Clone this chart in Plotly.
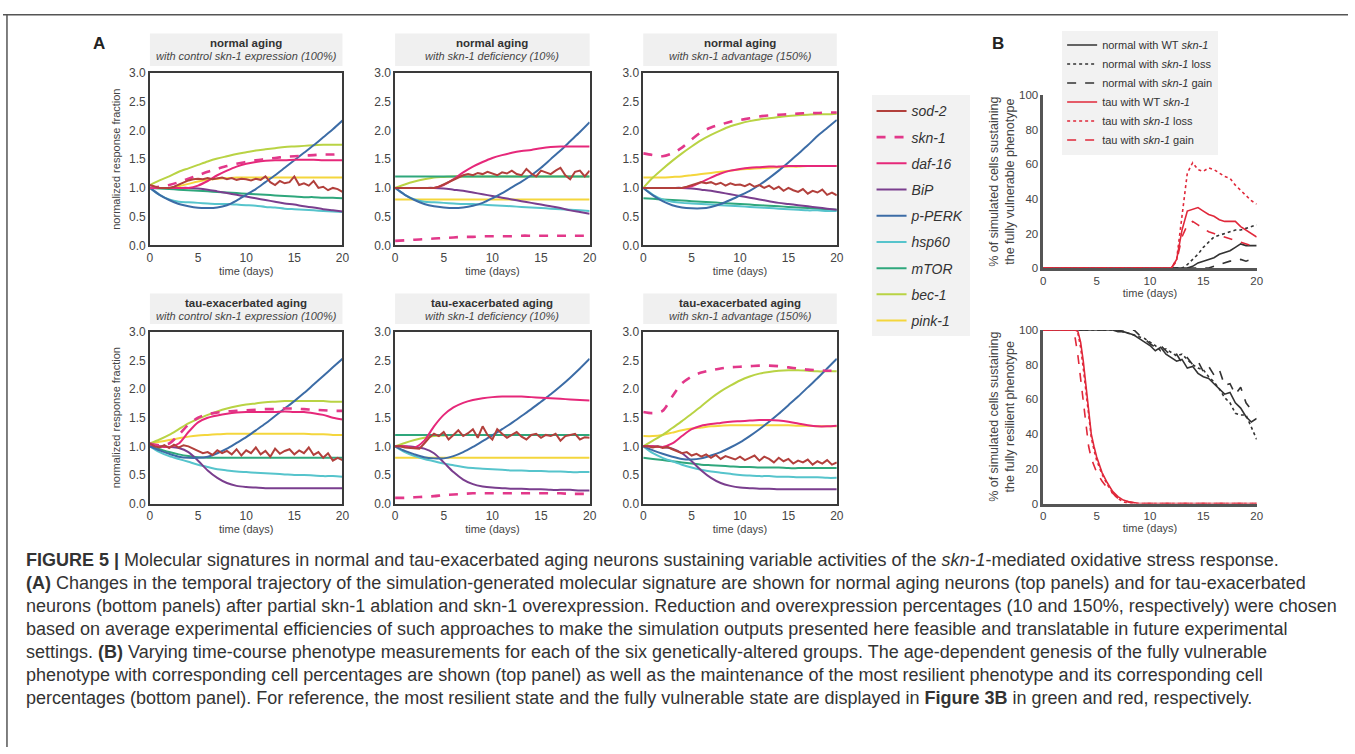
import plotly.graph_objects as go

W, H = 1355, 754
def px(x): return x / W
def py(y): return 1 - y / H

FONT = "Liberation Sans, Arial, Helvetica, sans-serif"

# ---------------- data ----------------
DAYS = [0, 1, 2, 3, 4, 5, 6, 7, 8, 9, 10, 11, 12, 13, 14, 15, 16, 17, 18, 19, 20]
HALF_DAYS = [0, 0.5, 1, 1.5, 2, 2.5, 3, 3.5, 4, 4.5, 5, 5.5, 6, 6.5, 7, 7.5, 8, 8.5, 9, 9.5,
             10, 10.5, 11, 11.5, 12, 12.5, 13, 13.5, 14, 14.5, 15, 15.5, 16, 16.5, 17, 17.5,
             18, 18.5, 19, 19.5, 20]

GENES = ["sod-2", "skn-1", "daf-16", "BiP", "p-PERK", "hsp60", "mTOR", "bec-1", "pink-1"]
GENE_COLORS = ["#B2403C", "#E2388A", "#E6287A", "#7A3E8E", "#3C6CA6",
               "#56C4CC", "#2FA77C", "#B9D344", "#F4D63C"]

PANEL_TITLES = ["normal aging", "normal aging", "normal aging",
                "tau-exacerbated aging", "tau-exacerbated aging", "tau-exacerbated aging"]
PANEL_SUBTITLES = ["with control skn-1 expression (100%)", "with skn-1 deficiency (10%)",
                   "with skn-1 advantage (150%)", "with control skn-1 expression (100%)",
                   "with skn-1 deficiency (10%)", "with skn-1 advantage (150%)"]

# panel 1: normal aging, 100%
n100_sod2 = [1.05, 1.02, 1.0, 1.0, 1.0, 1.02, 1.06, 1.1, 1.13, 1.15,
             1.16, 1.15, 1.17, 1.15, 1.16, 1.18, 1.15, 1.17, 1.14, 1.16,
             1.15, 1.13, 1.16, 1.14, 1.2, 1.1, 1.05, 1.12, 1.08, 1.1,
             1.2, 1.05, 1.08, 1.04, 1.12, 1.0, 1.02, 0.96, 1.0, 0.98, 0.93]
n100_skn1 = [1.0, 1.02, 1.05, 1.1, 1.16, 1.22, 1.28, 1.33, 1.38, 1.42, 1.45, 1.48, 1.5, 1.52, 1.54, 1.55, 1.56, 1.57, 1.58, 1.58, 1.59]
n100_daf16 = [1.0, 1.0, 1.0, 1.0, 1.0, 1.04, 1.12, 1.22, 1.3, 1.37, 1.42, 1.45, 1.47, 1.48, 1.48, 1.49, 1.49, 1.49, 1.48, 1.48, 1.48]
n100_bip = [1.0, 1.0, 1.0, 1.0, 1.0, 0.99, 0.97, 0.94, 0.91, 0.88, 0.85, 0.82, 0.79, 0.76, 0.73, 0.71, 0.68, 0.66, 0.63, 0.61, 0.59]
n100_pperk = [1.0, 0.88, 0.79, 0.72, 0.68, 0.655, 0.65, 0.66, 0.7, 0.78, 0.88, 0.98, 1.1, 1.22, 1.35, 1.48, 1.61, 1.74, 1.88, 2.02, 2.17]
n100_hsp60 = [1.0, 0.88, 0.8, 0.76, 0.75, 0.74, 0.73, 0.72, 0.72, 0.71, 0.7, 0.69, 0.67, 0.66, 0.64, 0.63, 0.62, 0.61, 0.6, 0.59, 0.58]
n100_mtor = [1.0, 0.99, 0.98, 0.97, 0.96, 0.95, 0.94, 0.93, 0.92, 0.91, 0.9, 0.89, 0.88, 0.87, 0.86, 0.85, 0.84, 0.84, 0.83, 0.83, 0.82]
n100_bec1 = [1.05, 1.13, 1.2, 1.28, 1.34, 1.4, 1.46, 1.51, 1.55, 1.59, 1.62, 1.65, 1.67, 1.69, 1.71, 1.72, 1.73, 1.74, 1.75, 1.75, 1.75]
n100_pink1 = [1.0, 1.0, 1.0, 1.03, 1.07, 1.11, 1.14, 1.16, 1.17, 1.18, 1.18, 1.18, 1.18, 1.18, 1.18, 1.18, 1.18, 1.18, 1.18, 1.18, 1.18]

# panel 2: normal aging, 10%
n10_sod2 = [1.0, 1.0, 1.0, 1.0, 1.0, 1.0, 1.0, 1.0, 1.0, 1.02,
            1.06, 1.1, 1.15, 1.19, 1.22, 1.24, 1.22, 1.26, 1.24, 1.28,
            1.25, 1.22, 1.27, 1.25, 1.3, 1.24, 1.22, 1.33, 1.25, 1.2,
            1.3, 1.27, 1.24, 1.3, 1.35, 1.22, 1.15, 1.28, 1.3, 1.2, 1.3]
n10_skn1 = [0.08, 0.09, 0.1, 0.11, 0.12, 0.13, 0.14, 0.15, 0.15, 0.16, 0.16, 0.16, 0.16, 0.17, 0.17, 0.17, 0.17, 0.17, 0.17, 0.17, 0.17]
n10_daf16 = [1.0, 1.0, 1.0, 1.0, 1.0, 1.05, 1.15, 1.27, 1.37, 1.45, 1.52, 1.57, 1.61, 1.64, 1.66, 1.69, 1.71, 1.72, 1.72, 1.72, 1.72]
n10_bip = [1.0, 1.0, 1.0, 1.0, 1.0, 0.99, 0.97, 0.95, 0.92, 0.89, 0.86, 0.83, 0.8, 0.77, 0.74, 0.71, 0.68, 0.65, 0.61, 0.58, 0.55]
n10_pperk = [1.0, 0.88, 0.79, 0.72, 0.68, 0.66, 0.65, 0.66, 0.69, 0.74, 0.82, 0.91, 1.01, 1.11, 1.22, 1.35, 1.5, 1.65, 1.81, 1.97, 2.14]
n10_hsp60 = [1.0, 0.88, 0.8, 0.76, 0.75, 0.74, 0.73, 0.72, 0.72, 0.71, 0.7, 0.69, 0.68, 0.67, 0.66, 0.65, 0.64, 0.63, 0.62, 0.61, 0.6]
n10_mtor = [1.2, 1.2, 1.2, 1.2, 1.2, 1.2, 1.2, 1.2, 1.2, 1.2, 1.2, 1.2, 1.2, 1.2, 1.2, 1.2, 1.2, 1.2, 1.2, 1.2, 1.2]
n10_bec1 = [1.0, 1.06, 1.11, 1.15, 1.18, 1.19, 1.2, 1.2, 1.2, 1.2, 1.2, 1.2, 1.2, 1.2, 1.2, 1.2, 1.2, 1.2, 1.2, 1.2, 1.2]
n10_pink1 = [0.8, 0.8, 0.8, 0.8, 0.8, 0.8, 0.8, 0.8, 0.8, 0.8, 0.8, 0.8, 0.8, 0.8, 0.8, 0.8, 0.8, 0.8, 0.8, 0.8, 0.8]

# panel 3: normal aging, 150%
n150_sod2 = [1.0, 1.0, 1.0, 1.0, 1.0, 1.0, 1.0, 1.0, 1.0, 1.02,
             1.05, 1.08, 1.1, 1.08, 1.1, 1.06, 1.09, 1.04, 1.08, 1.05,
             1.06, 1.03, 1.07, 1.02, 1.05, 1.0, 1.04, 0.98, 1.02, 0.95,
             1.0, 0.96, 0.93, 0.98, 0.9, 0.95, 0.92, 0.97, 0.88, 0.92, 0.87]
n150_skn1 = [1.6, 1.57, 1.55, 1.6, 1.7, 1.84, 1.97, 2.05, 2.1, 2.15, 2.18, 2.21, 2.24, 2.26, 2.27, 2.28, 2.29, 2.3, 2.3, 2.31, 2.31]
n150_daf16 = [1.0, 1.0, 1.0, 1.0, 1.0, 1.03, 1.1, 1.18, 1.25, 1.3, 1.33, 1.35, 1.36, 1.37, 1.37, 1.38, 1.38, 1.38, 1.38, 1.38, 1.38]
n150_bip = [1.0, 1.0, 1.0, 1.0, 1.0, 0.99, 0.97, 0.95, 0.92, 0.89, 0.86, 0.83, 0.8, 0.77, 0.74, 0.72, 0.7, 0.68, 0.66, 0.64, 0.62]
n150_pperk = [1.0, 0.87, 0.77, 0.7, 0.66, 0.645, 0.645, 0.67, 0.72, 0.79, 0.87, 0.95, 1.05, 1.17, 1.3, 1.44, 1.59, 1.74, 1.9, 2.04, 2.18]
n150_hsp60 = [1.0, 0.88, 0.8, 0.76, 0.74, 0.73, 0.72, 0.71, 0.7, 0.69, 0.68, 0.67, 0.66, 0.65, 0.64, 0.63, 0.62, 0.61, 0.61, 0.6, 0.6]
n150_mtor = [0.82, 0.81, 0.8, 0.79, 0.78, 0.77, 0.76, 0.75, 0.74, 0.73, 0.72, 0.71, 0.7, 0.69, 0.68, 0.67, 0.66, 0.65, 0.64, 0.63, 0.62]
n150_bec1 = [1.0, 1.18, 1.33, 1.47, 1.6, 1.72, 1.83, 1.92, 2.0, 2.07, 2.12, 2.16, 2.19, 2.21, 2.23, 2.25, 2.26, 2.27, 2.28, 2.28, 2.29]
n150_pink1 = [1.18, 1.18, 1.18, 1.19, 1.2, 1.22, 1.24, 1.26, 1.28, 1.3, 1.32, 1.33, 1.34, 1.35, 1.36, 1.37, 1.37, 1.38, 1.38, 1.38, 1.38]

# panel 4: tau-exacerbated aging, 100%
t100_sod2 = [1.05, 1.0, 0.98, 1.02, 0.97, 1.03, 0.98, 1.02, 1.0, 0.96,
             0.92, 0.88, 0.9, 0.85, 0.93, 0.88, 0.92, 0.86, 0.95, 0.84,
             0.93, 0.88, 0.98, 0.86, 0.92, 0.82, 0.96, 0.87, 0.92, 0.95,
             0.86, 0.93, 0.88, 0.98, 0.85, 0.9, 0.8, 0.88, 0.75, 0.8, 0.76]
t100_skn1 = [1.05, 1.02, 1.05, 1.2, 1.38, 1.5, 1.56, 1.59, 1.61, 1.62, 1.63, 1.64, 1.65, 1.65, 1.66, 1.66, 1.65, 1.64, 1.63, 1.62, 1.62]
t100_daf16 = [1.03, 1.0, 0.99, 1.05, 1.25, 1.42, 1.5, 1.54, 1.57, 1.59, 1.6, 1.6, 1.6, 1.6, 1.61, 1.6, 1.6, 1.58, 1.55, 1.5, 1.47]
t100_bip = [1.0, 1.0, 0.99, 0.97, 0.9, 0.75, 0.58, 0.45, 0.36, 0.31, 0.29, 0.28, 0.27, 0.27, 0.27, 0.27, 0.27, 0.27, 0.27, 0.27, 0.27]
t100_pperk = [1.0, 0.93, 0.87, 0.82, 0.8, 0.8, 0.82, 0.88, 0.96, 1.06, 1.16, 1.28, 1.4, 1.53, 1.66, 1.79, 1.93, 2.08, 2.23, 2.38, 2.53]
t100_hsp60 = [1.0, 0.9, 0.83, 0.78, 0.73, 0.68, 0.64, 0.6, 0.58, 0.56, 0.55, 0.54, 0.53, 0.52, 0.51, 0.5, 0.5, 0.49, 0.48, 0.48, 0.47]
t100_mtor = [1.0, 0.95, 0.9, 0.86, 0.83, 0.81, 0.8, 0.8, 0.8, 0.8, 0.8, 0.8, 0.8, 0.8, 0.8, 0.8, 0.8, 0.8, 0.8, 0.8, 0.8]
t100_bec1 = [1.05, 1.12, 1.2, 1.3, 1.4, 1.48, 1.55, 1.61, 1.66, 1.7, 1.73, 1.75, 1.77, 1.78, 1.79, 1.79, 1.79, 1.79, 1.79, 1.78, 1.78]
t100_pink1 = [1.05, 1.08, 1.11, 1.14, 1.17, 1.19, 1.2, 1.21, 1.22, 1.22, 1.22, 1.22, 1.22, 1.22, 1.22, 1.22, 1.22, 1.21, 1.21, 1.2, 1.2]

# panel 5: tau-exacerbated aging, 10%
t10_sod2 = [1.0, 1.0, 0.98, 0.97, 0.96, 0.96, 1.05, 1.15, 1.22, 1.18,
            1.25, 1.12, 1.2, 1.28, 1.18, 1.23, 1.3, 1.15, 1.35, 1.2,
            1.12, 1.3, 1.22, 1.15, 1.2, 1.25, 1.17, 1.12, 1.2, 1.22,
            1.15, 1.2, 1.18, 1.22, 1.1, 1.18, 1.2, 1.22, 1.12, 1.16, 1.15]
t10_skn1 = [0.1, 0.1, 0.11, 0.12, 0.13, 0.15, 0.16, 0.17, 0.18, 0.18, 0.18, 0.18, 0.18, 0.18, 0.18, 0.18, 0.18, 0.18, 0.17, 0.17, 0.17]
t10_daf16 = [1.0, 1.0, 0.98, 1.1, 1.35, 1.55, 1.68, 1.76, 1.81, 1.84, 1.86, 1.87, 1.87, 1.87, 1.86, 1.85, 1.84, 1.83, 1.82, 1.81, 1.8]
t10_bip = [1.0, 1.0, 0.99, 0.96, 0.88, 0.72, 0.55, 0.42, 0.34, 0.3, 0.28, 0.27, 0.26, 0.26, 0.25, 0.25, 0.24, 0.24, 0.24, 0.23, 0.23]
t10_pperk = [1.0, 0.92, 0.86, 0.81, 0.79, 0.79, 0.83, 0.9, 0.99, 1.09, 1.19, 1.3, 1.41, 1.53, 1.65, 1.78, 1.91, 2.05, 2.2, 2.36, 2.53]
t10_hsp60 = [1.0, 0.9, 0.83, 0.78, 0.74, 0.7, 0.67, 0.64, 0.62, 0.61, 0.6, 0.59, 0.58, 0.58, 0.57, 0.57, 0.56, 0.56, 0.55, 0.55, 0.55]
t10_mtor = [1.2, 1.2, 1.2, 1.2, 1.2, 1.2, 1.2, 1.2, 1.2, 1.2, 1.2, 1.2, 1.2, 1.2, 1.2, 1.2, 1.2, 1.2, 1.2, 1.2, 1.2]
t10_bec1 = [1.0, 1.06, 1.11, 1.15, 1.18, 1.19, 1.2, 1.2, 1.2, 1.2, 1.2, 1.2, 1.2, 1.2, 1.2, 1.2, 1.2, 1.2, 1.2, 1.2, 1.2]
t10_pink1 = [0.8, 0.8, 0.8, 0.8, 0.8, 0.8, 0.8, 0.8, 0.8, 0.8, 0.8, 0.8, 0.8, 0.8, 0.8, 0.8, 0.8, 0.8, 0.8, 0.8, 0.8]

# panel 6: tau-exacerbated aging, 150%
t150_sod2 = [1.0, 1.0, 0.98, 1.0, 0.97, 0.99, 0.95, 0.92, 0.88, 0.9,
             0.84, 0.87, 0.82, 0.86, 0.8, 0.85, 0.78, 0.83, 0.8, 0.77,
             0.82, 0.76, 0.8, 0.84, 0.75, 0.82, 0.78, 0.72, 0.8, 0.74,
             0.78, 0.7, 0.75, 0.72, 0.77, 0.68, 0.74, 0.7, 0.76, 0.68, 0.72]
t150_skn1 = [1.6, 1.58, 1.62, 1.87, 2.1, 2.22, 2.29, 2.33, 2.36, 2.38, 2.39, 2.4, 2.41, 2.41, 2.4, 2.38, 2.36, 2.34, 2.33, 2.32, 2.32]
t150_daf16 = [1.0, 1.0, 0.99, 1.05, 1.18, 1.3, 1.36, 1.39, 1.41, 1.43, 1.44, 1.45, 1.46, 1.46, 1.45, 1.43, 1.4, 1.37, 1.35, 1.35, 1.36]
t150_bip = [1.0, 1.0, 0.99, 0.96, 0.88, 0.74, 0.58, 0.45, 0.36, 0.31, 0.28, 0.27, 0.26, 0.26, 0.25, 0.25, 0.25, 0.25, 0.25, 0.25, 0.25]
t150_pperk = [1.0, 0.93, 0.87, 0.82, 0.78, 0.77, 0.79, 0.84, 0.9, 0.98, 1.07, 1.18, 1.3, 1.43, 1.57, 1.72, 1.87, 2.03, 2.19, 2.36, 2.53]
t150_hsp60 = [1.0, 0.88, 0.8, 0.74, 0.68, 0.63, 0.59, 0.56, 0.54, 0.52, 0.5, 0.49, 0.48, 0.48, 0.47, 0.47, 0.46, 0.46, 0.46, 0.45, 0.45]
t150_mtor = [0.8, 0.78, 0.76, 0.74, 0.72, 0.7, 0.68, 0.67, 0.66, 0.65, 0.64, 0.64, 0.63, 0.63, 0.63, 0.62, 0.62, 0.62, 0.62, 0.62, 0.62]
t150_bec1 = [1.0, 1.1, 1.2, 1.32, 1.44, 1.57, 1.7, 1.84, 1.96, 2.06, 2.15, 2.22, 2.27, 2.3, 2.32, 2.33, 2.33, 2.32, 2.31, 2.31, 2.31]
t150_pink1 = [1.18, 1.18, 1.2, 1.24, 1.28, 1.31, 1.33, 1.35, 1.36, 1.37, 1.37, 1.37, 1.37, 1.37, 1.37, 1.37, 1.36, 1.36, 1.35, 1.35, 1.35]

# Panel B (top): fully vulnerable phenotype (%)
VUL_DAYS = [0, 12, 12.5, 13, 13.5, 14, 14.5, 15, 15.5, 16, 16.5, 17, 17.5, 18, 18.5, 19, 19.5, 20]
vul_normal_wt = [0, 0, 0, 0, 0, 1, 3, 4, 5, 6, 8, 9, 10, 12, 14, 13, 13, 13]
vul_normal_loss = [0, 0, 0, 0, 2, 5, 8, 12, 15, 18, 19, 20, 21, 22, 22, 23, 24, 25]
vul_normal_gain = [0, 0, 0, 0, 0, 0, 0, 0, 0, 1, 2, 3, 4, 4, 5, 4, 5, 6]
vul_tau_wt = [0, 0, 5, 22, 33, 34, 35, 33, 31, 30, 28, 27, 27, 27, 24, 22, 20, 18]
vul_tau_loss = [0, 0, 5, 30, 55, 61, 57, 56, 58, 57, 55, 53, 52, 48, 45, 42, 39, 37]
vul_tau_gain = [0, 0, 4, 18, 25, 27, 25, 23, 21, 20, 19, 18, 17, 16, 15, 14, 13, 11]

# Panel B (bottom): fully resilient phenotype (%)
RES_NORMAL_DAYS = [0, 6, 6.5, 7, 7.5, 8, 8.5, 9, 9.5, 10, 10.5, 11, 11.5, 12, 12.5, 13, 13.5,
                   14, 14.5, 15, 15.5, 16, 16.5, 17, 17.5, 18, 18.5, 19, 19.5, 20]
res_normal_wt = [100, 100, 100, 99, 99, 98, 97, 95, 93, 91, 88, 90, 86, 84, 82, 83, 78,
                 79, 75, 73, 72, 69, 66, 63, 64, 58, 55, 50, 47, 49]
res_normal_loss = [100, 100, 100, 100, 99, 98, 97, 96, 95, 93, 91, 88, 89, 87, 85, 86, 83,
                   80, 78, 77, 73, 70, 66, 61, 58, 52, 51, 51, 44, 37]
res_normal_gain = [100, 100, 100, 100, 99, 99, 100, 97, 95, 92, 90, 91, 88, 85, 86, 81, 84,
                   80, 82, 76, 79, 74, 77, 68, 69, 63, 67, 58, 54, 53]
RES_TAU_DAYS = [0, 2.5, 2.75, 3, 3.25, 3.5, 3.75, 4, 4.25, 4.5, 4.75, 5, 5.5, 6, 6.5, 7, 7.5, 8, 9, 20]
res_tau_wt = [100, 100, 100, 100, 99, 93, 82, 68, 52, 40, 33, 27, 18, 12, 7, 4, 2, 1, 0, 0]
res_tau_loss = [100, 100, 100, 100, 98, 90, 78, 64, 49, 38, 31, 25, 17, 11, 6, 3, 1, 0, 0, 0]
res_tau_gain = [100, 100, 99, 95, 85, 72, 58, 45, 33, 26, 22, 18, 13, 9, 6, 3, 2, 1, 0, 0]

B_NAMES = ["normal with WT <i>skn-1</i>", "normal with <i>skn-1</i> loss", "normal with <i>skn-1</i> gain",
           "tau with WT <i>skn-1</i>", "tau with <i>skn-1</i> loss", "tau with <i>skn-1</i> gain"]
B_COLORS = ["#333333", "#333333", "#333333", "#E0283A", "#E0283A", "#E0283A"]
B_DASH = ["solid", "dot", "dash", "solid", "dot", "dash"]

A_TICKS_X = [0, 5, 10, 15, 20]
A_TICKS_Y = [0, 0.5, 1.0, 1.5, 2.0, 2.5, 3.0]
B_TICKS_Y = [0, 20, 40, 60, 80, 100]

# ---------------- assemble ----------------
panels = [
    [n100_sod2, n100_skn1, n100_daf16, n100_bip, n100_pperk, n100_hsp60, n100_mtor, n100_bec1, n100_pink1],
    [n10_sod2, n10_skn1, n10_daf16, n10_bip, n10_pperk, n10_hsp60, n10_mtor, n10_bec1, n10_pink1],
    [n150_sod2, n150_skn1, n150_daf16, n150_bip, n150_pperk, n150_hsp60, n150_mtor, n150_bec1, n150_pink1],
    [t100_sod2, t100_skn1, t100_daf16, t100_bip, t100_pperk, t100_hsp60, t100_mtor, t100_bec1, t100_pink1],
    [t10_sod2, t10_skn1, t10_daf16, t10_bip, t10_pperk, t10_hsp60, t10_mtor, t10_bec1, t10_pink1],
    [t150_sod2, t150_skn1, t150_daf16, t150_bip, t150_pperk, t150_hsp60, t150_mtor, t150_bec1, t150_pink1],
]

# pixel geometry of the subplots
A_X = [(148, 342), (395, 591), (645, 840)]
A_Y = [(67, 243), (331, 506)]
A_TITLE_Y = [(27, 60), (292, 323)]
B_X = (1048, 1263)
B_Y = [(90, 266), (329, 506)]

fig = go.Figure()
layout = dict(width=W, height=H, margin=dict(l=0, r=0, t=0, b=0),
              paper_bgcolor="white", plot_bgcolor="white",
              font=dict(family=FONT, color="#333"), showlegend=True)
shapes, annotations = [], []

# legend entries first (so grouped legend order follows gene order)
for g in range(9):
    fig.add_trace(go.Scatter(
        x=[None], y=[None], mode="lines", name="<i>" + GENES[g] + "</i>",
        line=dict(color=GENE_COLORS[g], width=2.6 if g == 1 else 2, dash="dash" if g == 1 else "solid"),
        xaxis="x", yaxis="y", legendgroup=GENES[g], showlegend=True, legend="legend",
        hoverinfo="skip"))

draw_order = [8, 7, 6, 5, 3, 4, 2, 1, 0]
for p in range(6):
    ax = p + 1
    col, row = p % 3, p // 3
    xl, xr = A_X[col]
    yt, yb = A_Y[row]
    sfx = "" if ax == 1 else str(ax)
    layout["xaxis" + sfx] = dict(domain=[px(xl), px(xr)], anchor="y" + sfx, range=[0, 20],
                                 tickvals=A_TICKS_X, showline=True, mirror=True, linecolor="#3a3a3a",
                                 linewidth=1.5, showgrid=False, zeroline=False, ticks="",
                                 tickfont=dict(size=12, color="#444"),
                                 title=dict(text="time (days)", font=dict(size=11, color="#444"), standoff=4))
    layout["yaxis" + sfx] = dict(domain=[py(yb), py(yt)], anchor="x" + sfx, range=[0, 3],
                                 tickvals=A_TICKS_Y, tickformat=".1f", showline=True, mirror=True,
                                 linecolor="#3a3a3a", linewidth=1.5, showgrid=False, zeroline=False,
                                 ticks="", tickfont=dict(size=12, color="#444"))
    if col == 0:
        layout["yaxis" + sfx]["title"] = dict(text="normalized response fraction",
                                              font=dict(size=11, color="#444"), standoff=6)
    for g in draw_order:
        vals = panels[p][g]
        xs = HALF_DAYS if g == 0 else DAYS
        dash = "dash" if g == 1 else "solid"
        fig.add_trace(go.Scatter(
            x=xs, y=vals, mode="lines", name="<i>" + GENES[g] + "</i>",
            line=dict(color=GENE_COLORS[g], width=2.6 if g == 1 else 2, dash=dash,
                      shape="linear" if g == 0 else "spline", smoothing=0.8),
            xaxis="x" + sfx, yaxis="y" + sfx, legendgroup=GENES[g],
            showlegend=False, hoverinfo="skip"))
    ty0, ty1 = A_TITLE_Y[row]
    shapes.append(dict(type="rect", xref="paper", yref="paper", x0=px(xl), x1=px(xr),
                       y0=py(ty1), y1=py(ty0), fillcolor="#F0F0F0", line=dict(width=0), layer="below"))
    annotations.append(dict(text="<b>" + PANEL_TITLES[p] + "</b>", xref="paper", yref="paper",
                            x=px((xl + xr) / 2), y=py(ty0 + 10), showarrow=False,
                            font=dict(size=11.5, color="#333"), xanchor="center", yanchor="middle"))
    annotations.append(dict(text="<i>" + PANEL_SUBTITLES[p] + "</i>", xref="paper", yref="paper",
                            x=px((xl + xr) / 2), y=py(ty0 + 23), showarrow=False,
                            font=dict(size=11, color="#444"), xanchor="center", yanchor="middle"))

# panel B axes
b_titles = ["% of simulated cells sustaining<br>the fully vulnerable phenotype",
            "% of simulated cells sustaining<br>the fully resilient phenotype"]
for i in range(2):
    ax = 7 + i
    yt, yb = B_Y[i]
    layout["xaxis%d" % ax] = dict(domain=[px(B_X[0]), px(B_X[1])], anchor="y%d" % ax, range=[0, 20],
                                  tickvals=A_TICKS_X, showline=True, linecolor="#555", linewidth=2.5,
                                  showgrid=False, zeroline=False, ticks="",
                                  tickfont=dict(size=11.5, color="#444"),
                                  title=dict(text="time (days)", font=dict(size=11, color="#444"), standoff=4))
    layout["yaxis%d" % ax] = dict(domain=[py(yb), py(yt)], anchor="x%d" % ax, range=[0, 100],
                                  tickvals=B_TICKS_Y, showline=True, linecolor="#555", linewidth=2.5,
                                  showgrid=False, zeroline=False, ticks="",
                                  tickfont=dict(size=11.5, color="#444"),
                                  title=dict(text=b_titles[i], font=dict(size=12.5, color="#444"), standoff=2))

vul = [vul_normal_wt, vul_normal_loss, vul_normal_gain, vul_tau_wt, vul_tau_loss, vul_tau_gain]
res = [res_normal_wt, res_normal_loss, res_normal_gain, res_tau_wt, res_tau_loss, res_tau_gain]
for k in range(6):
    fig.add_trace(go.Scatter(x=VUL_DAYS, y=vul[k], mode="lines", name=B_NAMES[k],
                             line=dict(color=B_COLORS[k], width=1.6, dash=B_DASH[k]),
                             xaxis="x7", yaxis="y7", legend="legend2", legendrank=k + 1,
                             showlegend=True, hoverinfo="skip"))
for k in range(6):
    xs = RES_NORMAL_DAYS if k < 3 else RES_TAU_DAYS
    fig.add_trace(go.Scatter(x=xs, y=res[k], mode="lines", name=B_NAMES[k],
                             line=dict(color=B_COLORS[k], width=1.6, dash=B_DASH[k]),
                             xaxis="x8", yaxis="y8", legend="legend2", showlegend=False,
                             hoverinfo="skip"))

layout["legend"] = dict(x=px(875), y=py(90), xanchor="left", yanchor="top", bgcolor="#F2F2F2",
                        font=dict(size=14, color="#333"), tracegroupgap=5, itemwidth=30,
                        traceorder="grouped", itemclick=False)
layout["legend2"] = dict(x=px(1067), y=py(24), xanchor="left", yanchor="top", bgcolor="#F2F2F2",
                         font=dict(size=11, color="#333"), tracegroupgap=0, itemwidth=30,
                         traceorder="normal")

# panel letters
annotations.append(dict(text="<b>A</b>", xref="paper", yref="paper", x=px(97), y=py(37),
                        showarrow=False, font=dict(size=17, color="#222"), xanchor="center", yanchor="middle"))
annotations.append(dict(text="<b>B</b>", xref="paper", yref="paper", x=px(1002), y=py(37),
                        showarrow=False, font=dict(size=17, color="#222"), xanchor="center", yanchor="middle"))

# caption
CAPTION = [
    "<b>FIGURE 5 |</b> Molecular signatures in normal and tau-exacerbated aging neurons sustaining variable activities of the <i>skn-1</i>-mediated oxidative stress response.",
    "<b>(A)</b> Changes in the temporal trajectory of the simulation-generated molecular signature are shown for normal aging neurons (top panels) and for tau-exacerbated",
    "neurons (bottom panels) after partial skn-1 ablation and skn-1 overexpression. Reduction and overexpression percentages (10 and 150%, respectively) were chosen",
    "based on average experimental efficiencies of such approaches to make the simulation outputs presented here feasible and translatable in future experimental",
    "settings. <b>(B)</b> Varying time-course phenotype measurements for each of the six genetically-altered groups. The age-dependent genesis of the fully vulnerable",
    "phenotype with corresponding cell percentages are shown (top panel) as well as the maintenance of the most resilient phenotype and its corresponding cell",
    "percentages (bottom panel). For reference, the most resilient state and the fully vulnerable state are displayed in <b>Figure 3B</b> in green and red, respectively.",
]
CAPTION_Y = [563, 587, 610, 634, 657, 681, 704]
for txt, yy in zip(CAPTION, CAPTION_Y):
    annotations.append(dict(text=txt, xref="paper", yref="paper", x=px(21), y=py(yy),
                            showarrow=False, xanchor="left", yanchor="middle",
                            font=dict(size=18, color="#333")))

# frame lines
shapes.append(dict(type="line", xref="paper", yref="paper", x0=0, x1=1, y0=py(8), y1=py(8),
                   line=dict(color="#555", width=1.5)))
shapes.append(dict(type="line", xref="paper", yref="paper", x0=px(4), x1=px(4), y0=py(8), y1=0,
                   line=dict(color="#555", width=1.5)))

layout["shapes"] = shapes
layout["annotations"] = annotations
fig.update_layout(**layout)

fig.write_html("out.html", config={"displayModeBar": False},
               post_script="document.body.style.margin='0';document.body.style.overflow='hidden';")
